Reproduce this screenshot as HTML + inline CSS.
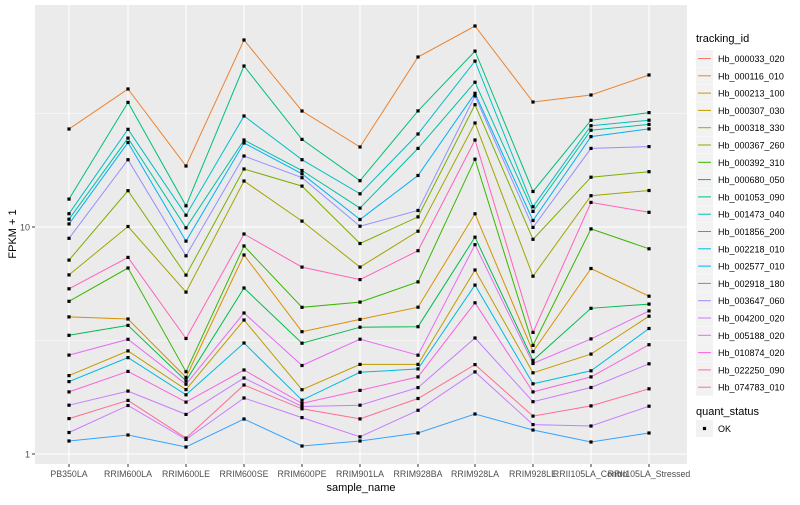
<!DOCTYPE html>
<html><head><meta charset="utf-8"><style>
body{margin:0;background:#fff;font-family:"Liberation Sans",sans-serif}
</style></head><body>
<svg id="s" width="800" height="500" xmlns="http://www.w3.org/2000/svg" font-family="Liberation Sans, sans-serif"></svg>
<script>
const s=document.getElementById('s');
let h='';
const L=35,R=687,T=5,B=464;
h+=`<rect x="${L}" y="${T}" width="${R-L}" height="${B-T}" fill="#EBEBEB"/>`;
[113.5,340.5].forEach(y=>h+=`<line x1="${L}" x2="${R}" y1="${y}" y2="${y}" stroke="#fff" stroke-width="0.5"/>`);
[227,454].forEach(y=>h+=`<line x1="${L}" x2="${R}" y1="${y}" y2="${y}" stroke="#fff" stroke-width="1.1"/>`);
const xs=[69,128,186,244,302,360,418,475,533,591,649];
xs.forEach(x=>h+=`<line x1="${x}" x2="${x}" y1="${T}" y2="${B}" stroke="#fff" stroke-width="1.1"/>`);
const cols=[
[129,203,215,220,225,243,268,279,296,306,329,344,374,379,389,403,417,432,441],
[89,104,136,139,145,176,216,256,265,322,326,344,355,360,387,400,402,435],
[166,208,216,230,244,260,282,298,368,375,380,382,388,393,400,410,438,439,447],
[40,66,116,140,143,156,169,181,234,246,255,288,313,320,343,370,378,385,398,419],
[111,147,169,173,178,189,250,304,335,347,386,400,404,408,410,446],
[147,187,197,218,222,242,270,283,316,324,336,366,374,400,411,436,441],
[57,121,140,156,209,216,233,257,300,317,354,365,370,381,395,406,433],
[26,54,63,91,95,97,118,137,156,217,241,246,284,286,326,364,367,414],
[102,202,208,213,226,229,257,330,345,352,362,364,378,389,396,414,424,430],
[95,125,126,134,141,176,198,204,247,298,337,355,375,378,398,423,442],
[75,117,121,126,131,164,185,206,246,299,305,313,318,338,354,385,403,433]];
const pal=["#F8766D","#EA8331","#D89000","#C09B00","#A3A500","#7CAE00","#39B600","#00BB4E","#00BF7D","#00C1A3","#00BFC4","#00BAE0","#00B0F6","#35A2FF","#9590FF","#C77CFF","#E76BF3","#FA62DB","#FF62BC","#FF6C91"];
const rankCol=["#EA8331","#00BF7D","#00BFC4","#00C1A3","#00B0F6","#9590FF","#7CAE00","#A3A500","#FF62BC","#39B600","#D89000","#00BB4E","#E76BF3","#C09B00","#00BAE0","#FA62DB","#C77CFF","#FF6C91","#C77CFF","#35A2FF"];
const N=20;
const ser=[];
for(let i=0;i<N;i++){ser.push(cols.map(c=>{const p=i*(c.length-1)/(N-1);const a=Math.floor(p),b=Math.min(a+1,c.length-1);return c[a]+(c[b]-c[a])*(p-a);}));}
ser.forEach((sr,i)=>{h+=`<polyline fill="none" stroke="${rankCol[i]}" stroke-width="1" points="${sr.map((y,j)=>xs[j]+','+y.toFixed(1)).join(' ')}"/>`;});
ser.forEach(sr=>sr.forEach((y,j)=>h+=`<rect x="${xs[j]-1.6}" y="${(y-1.6).toFixed(1)}" width="3.2" height="3.2" fill="#000"/>`));
h+=`<text x="30" y="230.5" font-size="9" fill="#4D4D4D" text-anchor="end">10</text><line x1="32" x2="35" y1="227" y2="227" stroke="#333"/>`;
h+=`<text x="30" y="457.5" font-size="9" fill="#4D4D4D" text-anchor="end">1</text><line x1="32" x2="35" y1="454" y2="454" stroke="#333"/>`;
const names=["PB350LA","RRIM600LA","RRIM600LE","RRIM600SE","RRIM600PE","RRIM901LA","RRIM928BA","RRIM928LA","RRIM928LE","RRII105LA_Control","RRII105LA_Stressed"];
xs.forEach((x,j)=>{h+=`<line x1="${x}" x2="${x}" y1="464" y2="467" stroke="#333"/><text x="${x}" y="477" font-size="8.8" fill="#4D4D4D" text-anchor="middle">${names[j]}</text>`;});
h+=`<text x="361" y="491" font-size="11">sample_name</text>`.replace('x="361"','x="361" text-anchor="middle"');
h+=`<text transform="translate(16,234) rotate(-90)" font-size="11" text-anchor="middle">FPKM + 1</text>`;
const ids=["Hb_000033_020","Hb_000116_010","Hb_000213_100","Hb_000307_030","Hb_000318_330","Hb_000367_260","Hb_000392_310","Hb_000680_050","Hb_001053_090","Hb_001473_040","Hb_001856_200","Hb_002218_010","Hb_002577_010","Hb_002918_180","Hb_003647_060","Hb_004200_020","Hb_005188_020","Hb_010874_020","Hb_022250_090","Hb_074783_010"];
h+=`<text x="696" y="42" font-size="11">tracking_id</text>`;
ids.forEach((t,i)=>{const y=50+i*17.3;h+=`<rect x="696" y="${y}" width="17" height="17" fill="#F2F2F2"/><line x1="698" x2="711" y1="${y+8.5}" y2="${y+8.5}" stroke="${pal[i]}"/><text x="718" y="${y+12}" font-size="9">${t}</text>`;});
h+=`<text x="696" y="415" font-size="11">quant_status</text><rect x="696" y="420" width="17" height="17" fill="#F2F2F2"/><rect x="702.9" y="426.9" width="3.2" height="3.2" fill="#000"/><text x="718" y="432" font-size="9">OK</text>`;
s.innerHTML=h;
</script>
</body></html>
